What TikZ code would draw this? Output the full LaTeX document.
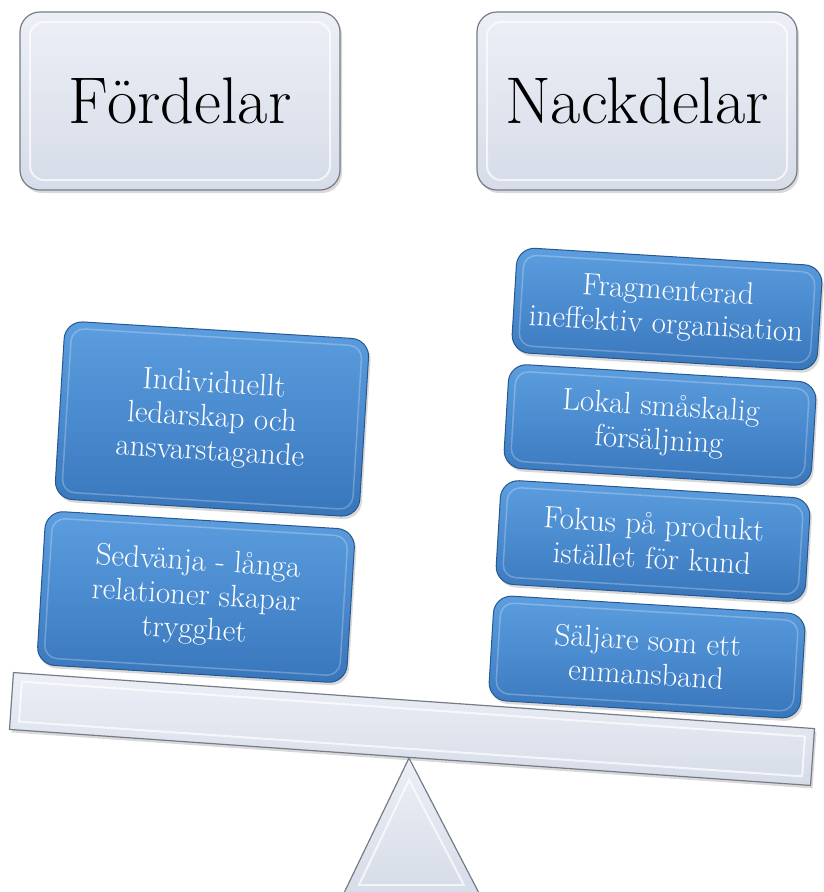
\documentclass[tikz,border=0pt]{standalone}
\usetikzlibrary{shadows,calc}
\definecolor{bluetop}{RGB}{92,158,224}
\definecolor{bluebot}{RGB}{56,118,188}
\definecolor{blueedge}{RGB}{40,88,142}
\definecolor{greytop}{RGB}{236,239,246}
\definecolor{greybot}{RGB}{214,220,232}
\definecolor{greyedge}{RGB}{118,124,134}
\begin{document}
\begin{tikzpicture}[x=1pt,y=-1pt,
  hdr/.style={draw=greyedge,line width=1.2pt,rounded corners=20pt,top color=greytop,bottom color=greybot,
    minimum width=320pt,minimum height=178pt,inner sep=0pt,font=\fontsize{66}{74}\selectfont,
    drop shadow={opacity=0.3,shadow xshift=2pt,shadow yshift=-3pt}},
  hdrin/.style={draw=white,line width=2pt,opacity=0.7,rounded corners=14pt,minimum width=300pt,minimum height=158pt,inner sep=0pt},
  bbox/.style={draw=blueedge,line width=1pt,rounded corners=18pt,top color=bluetop,bottom color=bluebot,
    text=white,align=center,inner sep=0pt,rotate=-3.5,font=\fontsize{31}{34}\selectfont,
    drop shadow={opacity=0.3,shadow xshift=2pt,shadow yshift=-3pt}},
  bboxin/.style={draw=white,line width=1.5pt,opacity=0.25,rounded corners=13pt,inner sep=0pt,rotate=-3.5},
  beamst/.style={draw=greyedge,line width=1.2pt,top color=greytop,bottom color=greybot,inner sep=0pt,rotate=-4,
    drop shadow={opacity=0.3,shadow xshift=2pt,shadow yshift=-3pt}},
  beamin/.style={draw=white,line width=2pt,opacity=0.7,inner sep=0pt,rotate=-4},
  fulc/.style={draw=greyedge,line width=1.2pt,top color=greytop,bottom color=greybot}
]
\useasboundingbox (0,0) rectangle (823,892);

% headers
\node[hdr] (fordelar) at (180,101) {Fördelar};
\node[hdrin] (fordelar-in) at (180,101) {};
\node[hdr] (nackdelar) at (637,101) {Nackdelar};
\node[hdrin] (nackdelar-in) at (637,101) {};

% fulcrum
\coordinate (apex) at (409,758);
\coordinate (bR) at (480,895);
\coordinate (bL) at (343,895);
\draw[fulc] (apex) -- (bR) -- (bL) -- cycle;
\draw[white,line width=2pt,opacity=0.7] ($(apex)+(0,22)$) -- ($(bR)+(-16,-10)$) -- ($(bL)+(16,-10)$) -- cycle;

% beam
\node[beamst,minimum width=803pt,minimum height=57pt] (beam) at (412,729) {};
\node[beamin,minimum width=785pt,minimum height=40pt] (beam-in) at (412,729) {};

% left stack
\node[bbox,minimum width=310pt,minimum height=154pt] (sed) at (196,597)
  {Sedvänja - långa\\relationer skapar\\trygghet};
\node[bboxin,minimum width=296pt,minimum height=140pt] (sed-in) at (196,597) {};
\node[bbox,minimum width=305pt,minimum height=178pt] (ind) at (212,419)
  {Individuellt\\ledarskap och\\ansvarstagande};
\node[bboxin,minimum width=291pt,minimum height=164pt] (ind-in) at (212,419) {};

% right stack
\node[bbox,minimum width=312pt,minimum height=105pt] (sal) at (647,657)
  {Säljare som ett\\enmansband};
\node[bboxin,minimum width=298pt,minimum height=91pt] (sal-in) at (647,657) {};
\node[bbox,minimum width=310pt,minimum height=104pt] (fok) at (653,541)
  {Fokus på produkt\\istället för kund};
\node[bboxin,minimum width=296pt,minimum height=90pt] (fok-in) at (653,541) {};
\node[bbox,minimum width=308pt,minimum height=104pt] (lok) at (660,425)
  {Lokal småskalig\\försäljning};
\node[bboxin,minimum width=294pt,minimum height=90pt] (lok-in) at (660,425) {};
\node[bbox,minimum width=306pt,minimum height=105pt] (frag) at (667,309)
  {Fragmenterad\\ineffektiv organisation};
\node[bboxin,minimum width=292pt,minimum height=91pt] (frag-in) at (667,309) {};
\end{tikzpicture}
\end{document}
